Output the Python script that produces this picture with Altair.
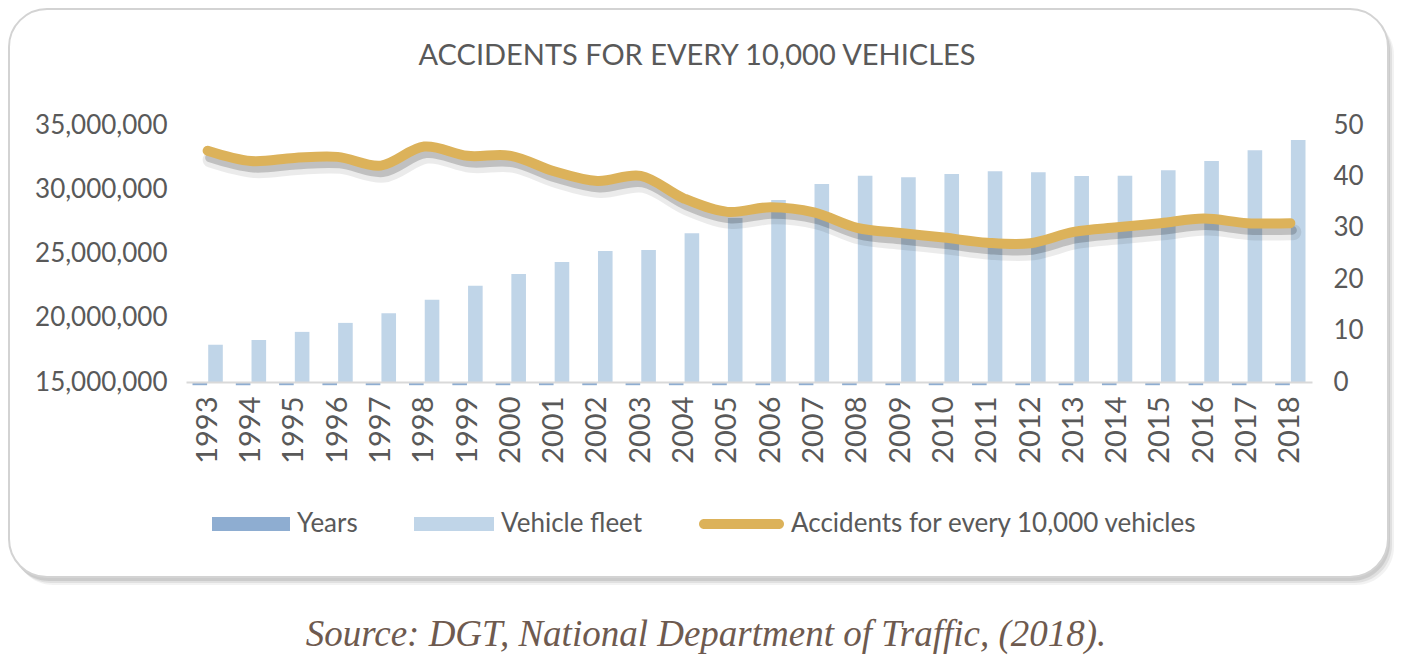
import altair as alt
import pandas as pd

# ---------------- data ----------------
years = ["1993", "1994", "1995", "1996", "1997", "1998", "1999", "2000", "2001",
         "2002", "2003", "2004", "2005", "2006", "2007", "2008", "2009", "2010",
         "2011", "2012", "2013", "2014", "2015", "2016", "2017", "2018"]
vehicle_fleet = [17900000, 18270000, 18900000, 19600000, 20350000, 21400000,
                 22500000, 23400000, 24340000, 25200000, 25270000, 26570000,
                 27760000, 29160000, 30400000, 31050000, 30930000, 31190000,
                 31400000, 31320000, 31030000, 31050000, 31470000, 32200000,
                 33030000, 33830000]
accidents = [45.0, 43.0, 43.6, 43.8, 42.1, 45.8, 44.0, 44.0, 41.0, 39.1, 40.1,
             35.7, 33.1, 34.0, 33.0, 30.0, 29.0, 28.1, 27.1, 27.0, 29.2, 30.1,
             30.9, 31.8, 30.9, 30.9]
series_names = ["Years", "Vehicle fleet", "Accidents for every 10,000 vehicles"]
series_colors = ["#8eadd1", "#c0d5e8", "#dcb25a"]
title_text = "ACCIDENTS FOR EVERY 10,000 VEHICLES"
source_text = "Source: DGT, National Department of Traffic, (2018)."
left_ticks = [15000000, 20000000, 25000000, 30000000, 35000000]
right_ticks = [0, 10, 20, 30, 40, 50]

AXIS_MIN = 15000000
YEARS_STUB = 250000  # drawn depth of the "Years" stubs below the baseline

# ---------------- tables ----------------
bar_rows = []
for y, v in zip(years, vehicle_fleet):
    bar_rows.append({"year": y, "series": "Years", "lo": AXIS_MIN - YEARS_STUB, "hi": AXIS_MIN})
    bar_rows.append({"year": y, "series": "Vehicle fleet", "lo": AXIS_MIN, "hi": v})
bars_df = pd.DataFrame(bar_rows)
line_df = pd.DataFrame({"year": years, "acc": accidents})
legend_df = pd.DataFrame({"series": series_names})

W, H = 1126, 257
FONT = "Lato"
GREY = "#595959"

x_enc = alt.X("year:N", sort=years,
              scale=alt.Scale(paddingInner=0.3, paddingOuter=0.15),
              axis=alt.Axis(title=None, labelAngle=270, labelFontSize=29,
                            labelFont=FONT, labelColor=GREY, labelPadding=14,
                            ticks=False, domainColor="#d9d9d9", domainWidth=2,
                            zindex=1))

# ---------------- frame decoration ----------------
def frame_rect(dx, dy, fill, opacity, stroke=None):
    kw = dict(cornerRadius=38, fill=fill, opacity=opacity)
    if stroke:
        kw.update(stroke=stroke, strokeWidth=2)
    return alt.Chart(legend_df.head(1)).mark_rect(**kw).encode(
        x=alt.value(-177 + dx), x2=alt.value(1202 + dx),
        y=alt.value(-116 + dy), y2=alt.value(452 + dy))

shadows = [frame_rect(6, 8, "#000000", 0.05), frame_rect(4, 6, "#000000", 0.07),
           frame_rect(2, 4, "#000000", 0.09)]
frame = frame_rect(0, 0, "#ffffff", 1, stroke="#d3d3d3")

# ---------------- bars ----------------
bars = alt.Chart(bars_df).mark_bar().encode(
    x=x_enc,
    xOffset=alt.XOffset("series:N", sort=["Years", "Vehicle fleet"],
                        scale=alt.Scale(paddingInner=0.07)),
    y=alt.Y("hi:Q", scale=alt.Scale(domain=[15000000, 35000000], zero=False),
            axis=alt.Axis(title=None, values=left_ticks, format=",.0f",
                          labelFontSize=26, labelFont=FONT, labelColor=GREY,
                          labelPadding=19, ticks=False, domain=False, grid=False,
                          zindex=1)),
    y2="lo:Q",
    color=alt.condition(alt.datum.series == "Years",
                        alt.value(series_colors[0]), alt.value(series_colors[1])),
)

# ---------------- line ----------------
y_line = alt.Y("acc:Q", scale=alt.Scale(domain=[0, 50]),
               axis=alt.Axis(title=None, orient="right", values=right_ticks,
                             labelFontSize=26, labelFont=FONT, labelColor=GREY,
                             labelPadding=21, ticks=False, domain=False, grid=False,
                             zindex=1))
y_line_noaxis = alt.Y("acc:Q", scale=alt.Scale(domain=[0, 50]), axis=None)

line_shadow1 = alt.Chart(line_df).mark_line(
    interpolate="catmull-rom", strokeWidth=16, color="#000000", opacity=0.08,
    xOffset=3, yOffset=9, strokeCap="round").encode(x=alt.X("year:N", sort=years), y=y_line_noaxis)
line_shadow2 = alt.Chart(line_df).mark_line(
    interpolate="catmull-rom", strokeWidth=9, color="#000000", opacity=0.18,
    xOffset=2, yOffset=7, strokeCap="round").encode(x=alt.X("year:N", sort=years), y=y_line_noaxis)
line = alt.Chart(line_df).mark_line(
    interpolate="catmull-rom", strokeWidth=10, color=series_colors[2],
    strokeCap="round").encode(x=alt.X("year:N", sort=years), y=y_line)

# ---------------- source text ----------------
source = alt.Chart(pd.DataFrame({"t": [source_text]})).mark_text(
    font="Liberation Serif", fontStyle="italic", fontSize=37, color="#6e5a4f",
    align="center", baseline="middle").encode(
    x=alt.value(520), y=alt.value(510), text="t:N")

# ---------------- legend (layer has no visible rows; scale domain is explicit) ----------------
shapes = [
    "M-4.571,-0.5L1,-0.5L1,0.5L-4.571,0.5Z",
    "M-4.714,-0.5L1,-0.5L1,0.5L-4.714,0.5Z",
    "M-4.714,-0.357L0.643,-0.357A0.357,0.357 0 0 1 0.643,0.357L-4.714,0.357"
    "A0.357,0.357 0 0 1 -4.714,-0.357Z",
]
legend_layer = alt.Chart(legend_df).transform_filter(
    alt.datum.series == "__none__"
).mark_point(filled=True, size=784, opacity=1).encode(
    color=alt.Color("series:N", title=None,
                    scale=alt.Scale(domain=series_names, range=series_colors),
                    legend=alt.Legend(orient="none", legendX=76, legendY=385,
                                      direction="horizontal", columns=3,
                                      columnPadding=56, labelFontSize=26,
                                      labelFont=FONT, labelColor=GREY,
                                      labelOffset=7, symbolOpacity=1,
                                      symbolStrokeWidth=0, symbolSize=784,
                                      labelLimit=600, zindex=1)),
    shape=alt.Shape("series:N", title=None,
                    scale=alt.Scale(domain=series_names, range=shapes)),
)

chart = alt.layer(
    *shadows, frame, bars, line_shadow1, line_shadow2, line, source, legend_layer
).resolve_scale(
    y="independent"
).properties(
    width=W, height=H,
    autosize=alt.AutoSizeParams(type="none"),
    padding={"left": 178, "top": 117, "right": 92, "bottom": 277},
    title=alt.TitleParams(title_text, anchor="middle", frame="group", dx=-52,
                          offset=0, dy=63, fontSize=29, font=FONT, color=GREY,
                          fontWeight="normal", zindex=1),
).configure_view(stroke=None).configure(background="#ffffff")

chart.save("out.html", embed_options={"renderer": "svg", "actions": False})
